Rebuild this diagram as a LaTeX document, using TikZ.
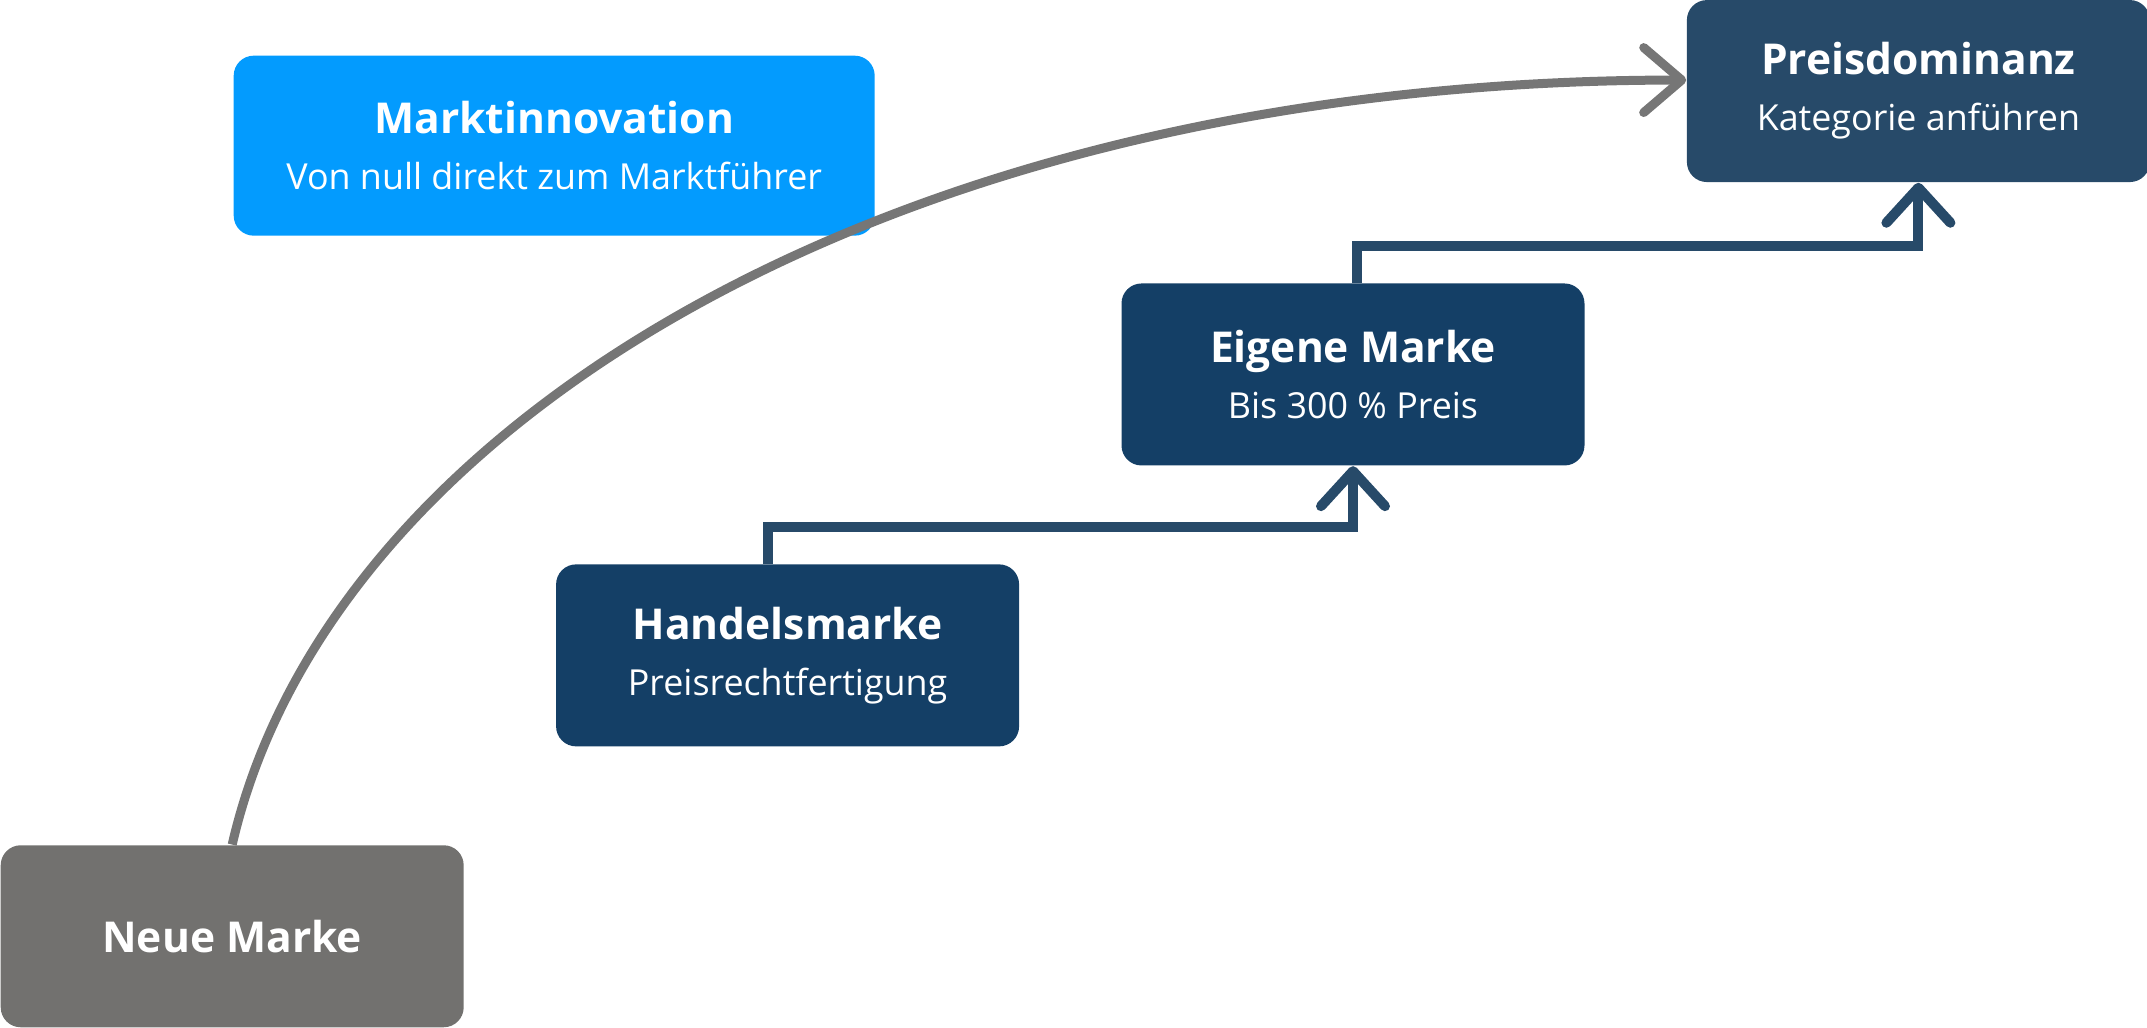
\documentclass[tikz,border=0pt]{standalone}
\usepackage{fontspec}
\setmainfont{Open Sans}
\usepackage{tikz}
\usetikzlibrary{arrows.meta}
\usetikzlibrary{positioning,calc}

\definecolor{stepgray}{HTML}{72716F}
\definecolor{linegray}{HTML}{767676}
\definecolor{skyblue}{HTML}{039BFE}
\definecolor{navy}{HTML}{143F66}
\definecolor{slatenavy}{HTML}{274A69}

\newcommand{\boxtitle}[1]{{\fontsize{12.1}{15.9}\selectfont\bfseries #1}}
\newcommand{\boxsub}[1]{{\fontsize{10.2}{15.9}\selectfont #1}}

\begin{document}
\begin{tikzpicture}[x=0.1mm,y=0.1mm,
        box/.style={rounded corners=2mm, minimum width=46.3mm, minimum height=18.2mm,
            inner sep=0pt, text=white, align=center, font=\fontsize{10.2}{15.9}\selectfont},
        stair/.style={line width=1mm, draw=slatenavy,
            -{Straight Barb[length=3.5mm, width=6.4mm, round]}},
        curve/.style={line width=0.9mm, draw=linegray,
            -{Straight Barb[length=3.8mm, width=6.5mm, round]}}]
        \def\rise{3.7mm}
        \useasboundingbox (0,0) rectangle (2147,1028);
        % steps
        \node [box, fill=stepgray, anchor=south west] (neue) at (0,0) {\boxtitle{Neue Marke}};
        \node [box, fill=navy, above right=9.75mm and 9.1mm of neue] (handel)
            {\boxtitle{Handelsmarke}\\\boxsub{Preisrechtfertigung}};
        \node [box, fill=navy, above right=9.75mm and 10.1mm of handel] (eigene)
            {\boxtitle{Eigene Marke}\\\boxsub{Bis 300 \% Preis}};
        \node [box, fill=slatenavy, above right=10mm and 10.1mm of eigene] (preis)
            {\boxtitle{Preisdominanz}\\\boxsub{Kategorie anführen}};
        \node [box, fill=skyblue, minimum width=64.1mm, minimum height=18mm, anchor=north west] (markt)
            at (233,973) {\boxtitle{Marktinnovation}\\\boxsub{Von null direkt zum Marktführer}};
        % connectors
        \draw [stair] ([xshift=-2mm]handel.north) -- ++(0,\rise) -| (eigene.south);
        \draw [stair] ([xshift=0.35mm]eigene.north) -- ++(0,\rise) -| (preis.south);
        \draw [curve] (neue.north) .. controls (330,608) and (900,948) .. ([yshift=1.1mm]preis.west);
\end{tikzpicture}
\end{document}
